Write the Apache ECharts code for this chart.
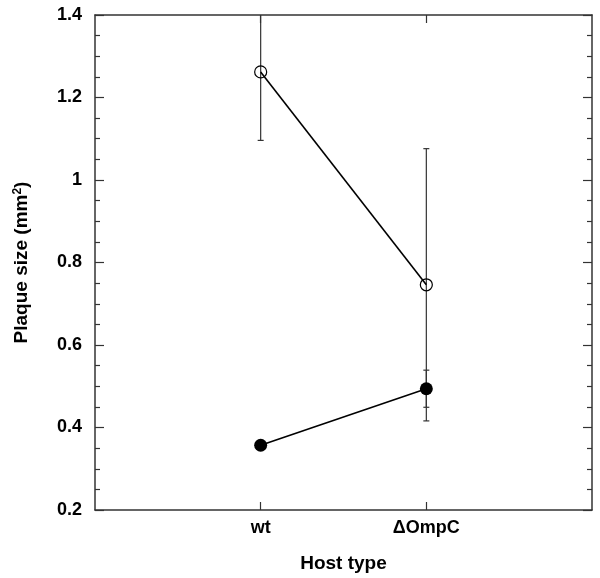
<!DOCTYPE html>
<html>
<head>
<meta charset="utf-8">
<script src="https://cdn.jsdelivr.net/npm/echarts@6/dist/echarts.min.js"></script>
<style>
  html, body { margin: 0; padding: 0; background: #fff; }
  #chart { width: 600px; height: 578px; }
</style>
</head>
<body>
<div id="chart"></div>
<script>
// Plaque size by host type: open vs filled circles with error bars.

const hostTypes = ['wt', 'ΔOmpC']
const hostPos = [1, 2]

const openMeans = [1.262, 0.746]
const openErrors = [0.166, 0.33]

const filledMeans = [0.357, 0.494]
const filledErrors = [0, 0.045]

const yMin = 0.2
const yMax = 1.4

const chart = echarts.init(document.getElementById('chart'))

function errorSeries(means, errors) {
  return {
    type: 'custom',
    z: 1,
    data: means.map((m, i) => [hostPos[i], m - errors[i], m + errors[i]]),
    renderItem: (params, api) => {
      const x = api.value(0)
      const lo = Math.max(api.value(1), yMin)
      const hi = Math.min(api.value(2), yMax)
      const pLo = api.coord([x, lo])
      const pHi = api.coord([x, hi])
      const cap = 3
      const style = { stroke: '#333', lineWidth: 1.2 }
      const kids = [
        { type: 'line', shape: { x1: pLo[0], y1: pLo[1], x2: pHi[0], y2: pHi[1] }, style },
      ]
      if (api.value(1) >= yMin) {
        kids.push({ type: 'line', shape: { x1: pLo[0] - cap, y1: pLo[1], x2: pLo[0] + cap, y2: pLo[1] }, style })
      }
      if (api.value(2) <= yMax) {
        kids.push({ type: 'line', shape: { x1: pHi[0] - cap, y1: pHi[1], x2: pHi[0] + cap, y2: pHi[1] }, style })
      }
      return { type: 'group', children: kids }
    },
  }
}

const labelFont = { fontFamily: 'Liberation Sans, Arial, sans-serif', fontWeight: 'bold', fontSize: 18, color: '#000' }
const axisLineStyle = { color: '#333', width: 1.5 }

chart.setOption({
  backgroundColor: '#fff',
  animation: false,
  grid: { left: 95, right: 8, top: 15, bottom: 66 },
  xAxis: [
    {
      type: 'value',
      min: 0,
      max: 3,
      interval: 1,
      splitLine: { show: false },
      axisLine: { onZero: false, lineStyle: axisLineStyle },
      axisTick: { inside: true, length: 8, customValues: hostPos, lineStyle: { color: '#333', width: 1.2 } },
      axisLabel: {
        ...labelFont,
        margin: 9,
        customValues: hostPos,
        formatter: (v) => hostTypes[hostPos.indexOf(v)] || '',
      },
      name: 'Host type',
      nameLocation: 'middle',
      nameGap: 44,
      nameTextStyle: { ...labelFont, fontSize: 19 },
    },
    {
      type: 'value',
      position: 'top',
      min: 0,
      max: 3,
      interval: 1,
      splitLine: { show: false },
      axisLine: { onZero: false, lineStyle: axisLineStyle },
      axisTick: { inside: true, length: 8, customValues: hostPos, lineStyle: { color: '#333', width: 1.2 } },
      axisLabel: { show: false },
    },
  ],
  yAxis: [
    {
      type: 'value',
      min: yMin,
      max: yMax,
      interval: 0.2,
      splitLine: { show: false },
      axisLine: { onZero: false, lineStyle: axisLineStyle },
      axisTick: { inside: true, length: 9, lineStyle: { color: '#333', width: 1.2 } },
      minorTick: { show: true, splitNumber: 4, length: 5, lineStyle: { color: '#333', width: 1.2 } },
      axisLabel: { ...labelFont, margin: 13, formatter: (v) => String(+v.toFixed(1)) },
      name: 'Plaque size (mm{sup|2})',
      nameLocation: 'middle',
      nameGap: 64,
      nameTextStyle: {
        ...labelFont,
        fontSize: 19,
        rich: { sup: { ...labelFont, fontSize: 12, verticalAlign: 'top', lineHeight: 12 } },
      },
    },
    {
      type: 'value',
      position: 'right',
      min: yMin,
      max: yMax,
      interval: 0.2,
      splitLine: { show: false },
      axisLine: { onZero: false, lineStyle: axisLineStyle },
      axisTick: { inside: true, length: 9, lineStyle: { color: '#333', width: 1.2 } },
      minorTick: { show: true, splitNumber: 4, length: 5, lineStyle: { color: '#333', width: 1.2 } },
      axisLabel: { show: false },
    },
  ],
  series: [
    errorSeries(openMeans, openErrors),
    errorSeries(filledMeans, filledErrors),
    {
      type: 'line',
      z: 2,
      data: openMeans.map((m, i) => [hostPos[i], m]),
      symbol: 'circle',
      symbolSize: 12,
      itemStyle: { color: 'transparent', borderColor: '#000', borderWidth: 1.2 },
      lineStyle: { color: '#000', width: 1.6 },
    },
    {
      type: 'line',
      z: 2,
      data: filledMeans.map((m, i) => [hostPos[i], m]),
      symbol: 'circle',
      symbolSize: 13,
      itemStyle: { color: '#000' },
      lineStyle: { color: '#000', width: 1.6 },
    },
  ],
})
</script>
</body>
</html>
